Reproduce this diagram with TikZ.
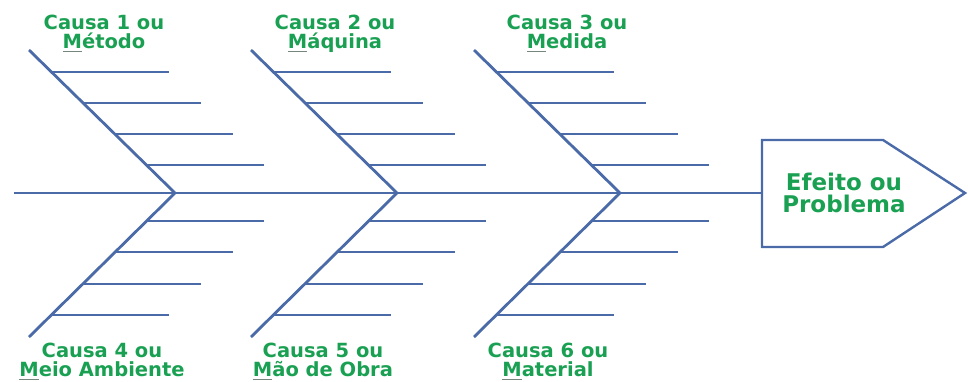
\documentclass[tikz,border=0pt]{standalone}
\usepackage{fontspec}
\setmainfont{DejaVu Sans}
\usetikzlibrary{calc}
\definecolor{azulosso}{RGB}{74,106,168}
\definecolor{verdecausa}{RGB}{26,160,82}
\definecolor{cinzasub}{RGB}{118,134,124}
\newcommand{\letra}[1]{\setbox0\hbox{#1}\rlap{\color{cinzasub}\rule[-3.5pt]{\wd0}{1.6pt}}#1}
\newcommand{\espinha}[2]{%
  \coordinate (#1) at (#2,193);
  \coordinate (#1t) at (#2-146,50);
  \coordinate (#1b) at (#2-146,337);
  \draw[osso] (#1t) -- (#1) -- (#1b);
  \foreach \d in {28,59,90,121} {
    \draw[costela] ($(#1)!\d/143!(#1t)$) -- ++(118,0);
    \draw[costela] ($(#1)!\d/143!(#1b)$) -- ++(118,0);
  }}
\tikzset{
  osso/.style={azulosso, line width=2.8pt, line join=miter},
  costela/.style={azulosso, line width=2pt},
  caixa/.style={azulosso, line width=2.4pt, line join=miter},
  causa/.style={font=\fontsize{19.5}{19}\selectfont\bfseries, text=verdecausa, align=center, inner sep=0pt},
  efeitotxt/.style={causa, font=\fontsize{23}{22}\selectfont\bfseries},
}
\begin{document}
\begin{tikzpicture}[x=1pt, y=-1pt]
  \useasboundingbox (0,0) rectangle (968,381);
  \espinha{a1}{175}
  \espinha{a2}{397}
  \espinha{a3}{620}
  % cabeca
  \coordinate (cauda) at (14,193);
  \coordinate (cx) at (762,193);
  \draw[osso] (cauda) -- (cx);
  \draw[caixa] (762,140) -- (883,140) -- (965,193) -- (883,247) -- (762,247) -- cycle;
  \node[efeitotxt] (efeito) at (844,193) {Efeito ou\\Problema};
  \node[causa] (c1) at (104,34) {Causa 1 ou\\\letra{M}étodo};
  \node[causa] (c2) at (335,34) {Causa 2 ou\\\letra{M}áquina};
  \node[causa] (c3) at (567,34) {Causa 3 ou\\\letra{M}edida};
  \node[causa] (c4) at (102,362) {Causa 4 ou\\\letra{M}eio Ambiente};
  \node[causa] (c5) at (323,362) {Causa 5 ou\\\letra{M}ão de Obra};
  \node[causa] (c6) at (548,362) {Causa 6 ou\\\letra{M}aterial};
\end{tikzpicture}
\end{document}
